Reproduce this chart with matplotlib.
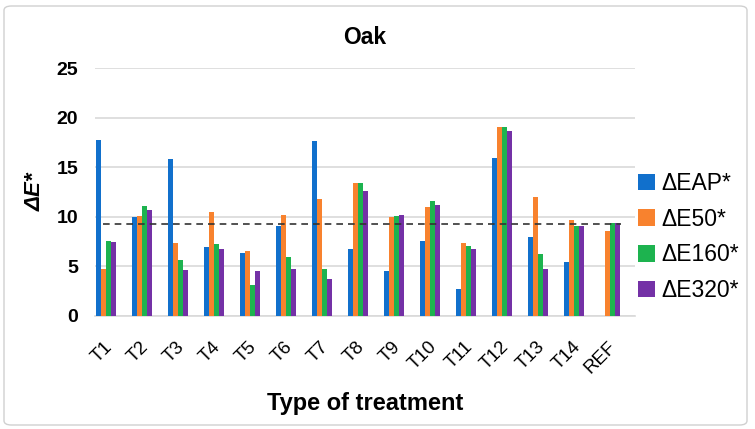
import matplotlib
matplotlib.use("Agg")
import matplotlib.pyplot as plt
import matplotlib.transforms as mtransforms
import numpy as np
from matplotlib.patches import FancyBboxPatch

plt.rcParams['font.family'] = ['Liberation Sans', 'DejaVu Sans']

treatments = ['T1', 'T2', 'T3', 'T4', 'T5', 'T6', 'T7', 'T8', 'T9', 'T10',
              'T11', 'T12', 'T13', 'T14', 'REF']
dE_AP = [17.7, 10.0, 15.8, 7.0, 6.4, 9.05, 17.6, 6.75, 4.5, 7.6, 2.75, 15.9, 8.0, 5.4, 0.0]
dE_50 = [4.7, 10.1, 7.35, 10.5, 6.6, 10.2, 11.75, 13.4, 9.95, 11.0, 7.35, 19.1, 12.0, 9.65, 8.6]
dE_160 = [7.6, 11.1, 5.6, 7.25, 3.15, 5.9, 4.7, 13.4, 10.1, 11.6, 7.1, 19.1, 6.25, 9.1, 9.35]
dE_320 = [7.45, 10.7, 4.6, 6.75, 4.5, 4.7, 3.75, 12.6, 10.2, 11.2, 6.75, 18.6, 4.7, 9.1, 9.35]
mean_line = 9.25

series = [
    ('ΔEAP*', dE_AP, '#1170CC'),
    ('ΔE50*', dE_50, '#F8822E'),
    ('ΔE160*', dE_160, '#1DB34F'),
    ('ΔE320*', dE_320, '#7431A6'),
]

fig = plt.figure(figsize=(7.55, 4.29), dpi=100)
ax = fig.add_axes([95 / 755, 1 - 316 / 429, 540 / 755, 248 / 429])

x = np.arange(len(treatments))
w = 0.14
for i, (name, vals, col) in enumerate(series):
    ax.bar(x + (i - 1.5) * w, vals, width=w, color=col, label=name, zorder=3)

ax.hlines(mean_line, -0.1, 14.3, colors='#333333', linestyles=(0, (4, 3)),
          linewidth=1.2, zorder=4)

ax.set_xlim(-0.31, 14.69)
ax.set_ylim(0, 25)
ax.set_yticks(range(0, 26, 5))
ax.yaxis.grid(True, color='#D9D9D9', linewidth=1.2, zorder=0)
for s in ['top', 'right', 'left']:
    ax.spines[s].set_visible(False)
ax.spines['bottom'].set_color('#D9D9D9')
ax.spines['bottom'].set_linewidth(1.2)
ax.tick_params(axis='both', length=0)
ax.tick_params(axis='y', pad=12)
ax.tick_params(axis='x', pad=16)
for lab in ax.get_yticklabels():
    lab.set_fontsize(14)
    lab.set_fontweight('bold')
ax.set_xticks(x)
ax.set_xticklabels(treatments, rotation=45, ha='right', fontsize=13.5)
# shift the rotated labels a bit to the right, like the original
shift = mtransforms.ScaledTranslation(10 / 100, 0, fig.dpi_scale_trans)
for lab in ax.get_xticklabels():
    lab.set_transform(lab.get_transform() + shift)

ax.set_title('Oak', fontsize=16.5, fontweight='bold', pad=17)
ax.set_xlabel('Type of treatment', fontsize=17, fontweight='bold', labelpad=11)
ax.set_ylabel('ΔE*', fontsize=16, fontweight='bold', style='italic', labelpad=8)

fig.legend(loc='center left', bbox_to_anchor=(617 / 755, 1 - 237 / 429),
           frameon=False, fontsize=16.5, handlelength=0.75, handleheight=0.75,
           handletextpad=0.3, labelspacing=0.55)

border = FancyBboxPatch((4 / 755, 4 / 429), 743 / 755, 419 / 429,
                        boxstyle='round,pad=0,rounding_size=0.01',
                        transform=fig.transFigure, facecolor='none',
                        edgecolor='#D0D0D0', linewidth=1.0)
fig.patches.append(border)

fig.savefig('out.png', dpi=100)
